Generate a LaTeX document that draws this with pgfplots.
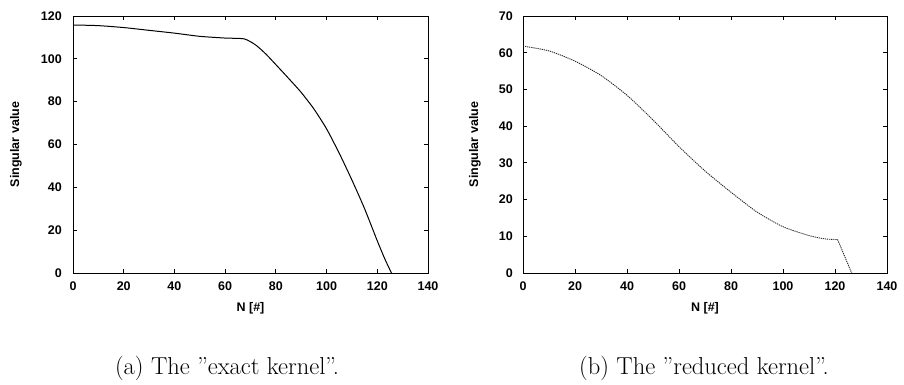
\documentclass[border=0pt]{standalone}
\usepackage{fontspec}
\usepackage{pgfplots}
\pgfplotsset{compat=1.18}
\newfontfamily\hv{Liberation Sans}
\pgfplotsset{
  gp/.style={
    scale only axis,
    anchor=south west,
    xmin=0, xmax=140, ymin=0,
    xtick={0,20,...,140},
    tick align=inside,
    major tick length=4pt,
    axis line style={line width=0.9pt},
    every tick/.style={line width=0.8pt, black},
    /pgf/number format/assume math mode=true,
    tick label style={font=\hv\bfseries\fontsize{12.5}{14}\selectfont, inner sep=0pt},
    xticklabel style={anchor=north},
    yticklabel style={anchor=east},
    xticklabel shift=9pt,
    xlabel={N [\#]},
    ylabel={Singular value},
    every axis x label/.style={at={(axis description cs:0.5,-0.136)}, anchor=center, font=\hv\bfseries\fontsize{12.5}{14}\selectfont},
    scaled ticks=false,
  }
}
\begin{document}
\begin{tikzpicture}[x=1pt,y=1pt]
\path[use as bounding box] (0,0) rectangle (904,385);
\begin{axis}[gp, at={(73pt,112pt)}, width=355pt, height=257pt, ymax=120,
  ytick={0,20,...,120}, yticklabel shift=11pt,
  every axis y label/.style={at={(axis description cs:-0.1606,0.5)}, rotate=90, anchor=center, font=\hv\bfseries\fontsize{12.5}{14}\selectfont}]
\addplot[black, line width=1pt, smooth, tension=0.4] coordinates {
(0,115.8) (10,115.5) (20,114.6) (30,113.3) (40,112.0) (50,110.5)
(60,109.7) (67.5,109.3) (72,106.5) (76,102.3) (80,97.3) (85,90.9) (90,84.3) (95,76.6)
(100,67.3) (105,55.9) (110,43.4) (115,30.0) (120,15.0) (123,6.5) (125.6,0)
};
\end{axis}
\begin{axis}[gp, at={(523pt,112pt)}, width=364pt, height=257pt, ymax=70,
  ytick={0,10,...,70}, yticklabel shift=10pt,
  every axis y label/.style={at={(axis description cs:-0.132,0.5)}, rotate=90, anchor=center, font=\hv\bfseries\fontsize{12.5}{14}\selectfont}]
\addplot[black!85, line width=0.9pt, dash pattern=on 1.2pt off 0.9pt, smooth, tension=0.4] coordinates {
(0,61.8) (10,60.5) (20,57.7) (30,53.8) (40,48.4)
(50,41.7) (60,34.4) (70,27.8) (80,22.0)
(90,16.6) (100,12.6) (110,10.2) (116,9.3) (121,9.1)
};
\addplot[black!85, line width=0.9pt, dash pattern=on 1.2pt off 0.9pt] coordinates {(121,9.1) (126.4,0)};
\end{axis}
\node[anchor=base, font=\fontsize{24.5}{30}\selectfont, inner sep=0pt] at (227,10) {(a) The ”exact kernel”.};
\node[anchor=base, font=\fontsize{24.5}{30}\selectfont, inner sep=0pt] at (704,10) {(b) The ”reduced kernel”.};
\end{tikzpicture}
\end{document}
